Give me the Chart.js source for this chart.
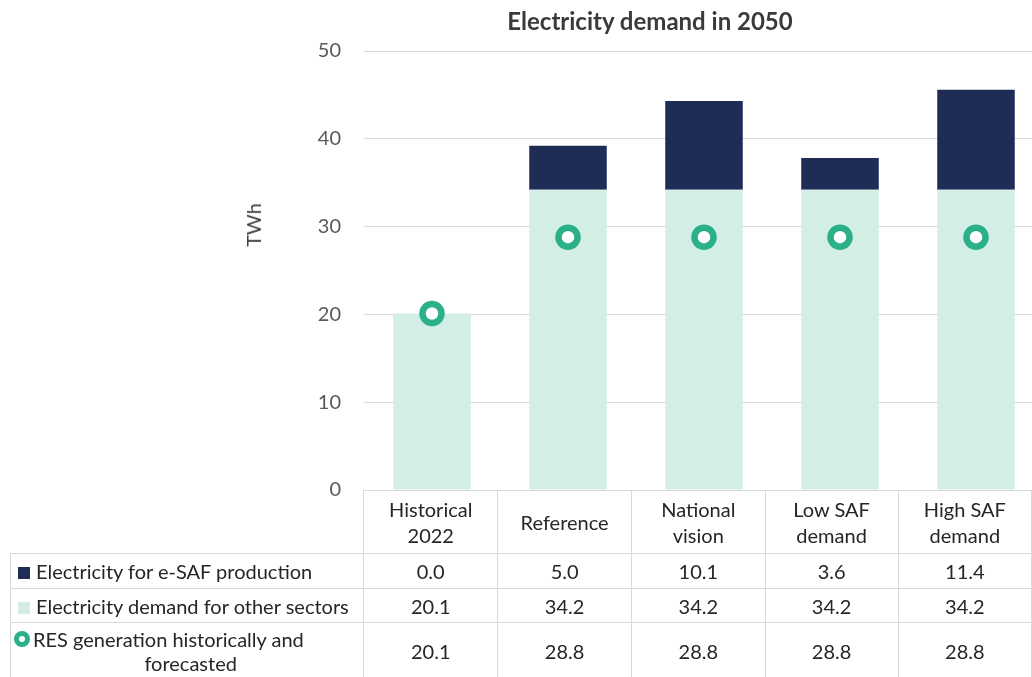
<!DOCTYPE html>
<html>
<head>
<meta charset="utf-8">
<script src="https://cdn.jsdelivr.net/npm/chart.js@4/dist/chart.umd.min.js"></script>
<style>
  html, body { margin: 0; padding: 0; background: #fff; }
  #wrap { position: relative; width: 1032px; height: 677px; overflow: hidden; font-family: Lato, "Open Sans", sans-serif; color: #262626; }
  #chart { position: absolute; left: 0; top: 0; }
  .chart-title { position: absolute; left: 400px; width: 500px; top: 6px; text-align: center; font-size: 24px; font-weight: bold; color: #3a3a3a; }
  .axis-title { position: absolute; left: 253px; top: 225px; transform: translate(-50%, -50%) rotate(-90deg); font-size: 20px; color: #404040; }
  table.data-table { position: absolute; left: 10px; top: 490px; border-collapse: collapse; table-layout: fixed; font-size: 20px; }
  .data-table td, .data-table th { border: 1px solid #d9d9d9; text-align: center; padding: 0; font-weight: normal; }
  .data-table th { height: 62px; line-height: 26px; }
  .data-table th.blank { border-top: none; border-left: none; }
  .data-table td.key { text-align: left; padding-left: 7px; white-space: nowrap; }
  .data-table tr.r1 td { height: 34px; }
  .data-table tr.r2 td { height: 33px; }
  .data-table tr.r3 td { height: 56px; line-height: 24px; }
  .swatch { display: inline-block; width: 12px; height: 12px; margin-right: 6px; vertical-align: 0px; }
  .ring { display: inline-block; width: 6px; height: 6px; border: 5px solid #2bb08a; border-radius: 50%; margin-right: 3px; margin-left: -4px; vertical-align: 0px; background: #fff; }
</style>
</head>
<body>
<div id="wrap">
  <!-- canvas is wider than the page: the original is cropped at the right -->
  <canvas id="chart" width="1044" height="677"></canvas>
  <div class="chart-title">Electricity demand in 2050</div>
  <div class="axis-title">TWh</div>
  <table class="data-table" id="dataTable"></table>
</div>
<script>
const categories = [["Historical", "2022"], ["Reference"], ["National", "vision"], ["Low SAF", "demand"], ["High SAF", "demand"]];
const esafValues = [0.0, 5.0, 10.1, 3.6, 11.4];
const otherValues = [20.1, 34.2, 34.2, 34.2, 34.2];
const resValues = [20.1, 28.8, 28.8, 28.8, 28.8];
const yTicks = [0, 10, 20, 30, 40, 50];

const seriesNames = ["Electricity for e-SAF production", "Electricity demand for other sectors", "RES generation historically and forecasted"];

const navy = "#1f2c56";
const mint = "#d3eee5";
const teal = "#2bb08a";

const ctx = document.getElementById("chart").getContext("2d");
const chart = new Chart(ctx, {
  data: {
    labels: categories.map(c => c.join(" ")),
    datasets: [
      {
        type: "line",
        label: seriesNames[2],
        data: resValues,
        stack: "res",
        showLine: false,
        pointStyle: "circle",
        pointRadius: 9.5,
        pointBorderWidth: 6.5,
        pointBackgroundColor: "#ffffff",
        pointBorderColor: teal,
        order: 0
      },
      {
        type: "bar",
        label: seriesNames[1],
        data: otherValues,
        stack: "demand",
        backgroundColor: mint,
        barPercentage: 0.57,
        categoryPercentage: 1,
        order: 1
      },
      {
        type: "bar",
        label: seriesNames[0],
        data: esafValues,
        stack: "demand",
        backgroundColor: navy,
        barPercentage: 0.57,
        categoryPercentage: 1,
        order: 1
      }
    ]
  },
  options: {
    responsive: false,
    animation: false,
    events: [],
    layout: { autoPadding: false, padding: { top: 51, bottom: 187, left: 0, right: 0 } },
    plugins: {
      legend: { display: false },
      tooltip: { enabled: false },
      title: { display: false }
    },
    scales: {
      x: { type: "category", display: false, stacked: true, offset: true },
      y: {
        stacked: true,
        min: yTicks[0],
        max: yTicks[yTicks.length - 1],
        afterFit: (scale) => { scale.width = 364; },
        afterBuildTicks: (scale) => { scale.ticks = yTicks.map(v => ({ value: v })); },
        border: { display: false },
        grid: { color: "#d9d9d9", lineWidth: 1, drawTicks: false },
        ticks: { padding: 23, color: "#595959", font: { family: "Lato", size: 20 } }
      }
    }
  }
});

// data table under the plot, columns follow the category scale
const area = chart.chartArea;
const colW = (area.right - area.left) / categories.length;
const table = document.getElementById("dataTable");
let html = "<colgroup><col style='width:" + (area.left - 10) + "px'>";
categories.forEach(() => { html += "<col style='width:" + colW + "px'>"; });
html += "</colgroup><tr><th class='blank'></th>";
categories.forEach(c => { html += "<th>" + c.join("<br>") + "</th>"; });
html += "</tr><tr class='r1'><td class='key'><span class='swatch' style='background:" + navy + "'></span>" + seriesNames[0] + "</td>";
esafValues.forEach(v => { html += "<td>" + v.toFixed(1) + "</td>"; });
html += "</tr><tr class='r2'><td class='key'><span class='swatch' style='background:" + mint + "'></span>" + seriesNames[1] + "</td>";
otherValues.forEach(v => { html += "<td>" + v.toFixed(1) + "</td>"; });
html += "</tr><tr class='r3'><td class='key'><span class='ring'></span>RES generation historically and<div style='text-align:center'>forecasted</div></td>";
resValues.forEach(v => { html += "<td>" + v.toFixed(1) + "</td>"; });
html += "</tr>";
table.innerHTML = html;
</script>
</body>
</html>
